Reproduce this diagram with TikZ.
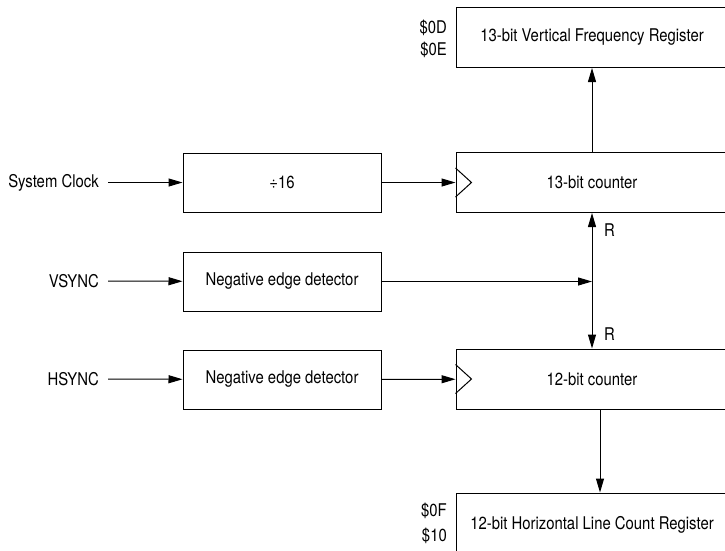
\documentclass[tikz,border=0pt]{standalone}
\usepackage{fontspec}
\setmainfont{TeX Gyre Heros}[FakeStretch=0.85]
\usetikzlibrary{positioning,arrows.meta}

\begin{document}
\begin{tikzpicture}
  [x=1pt,y=-1pt,
   >={Triangle[length=14pt,width=8pt]},
   node font=\fontsize{17.5}{22}\selectfont,
   blockN/.style={draw,line width=1pt,minimum width=198pt,minimum height=59pt,inner sep=0pt},
   regN/.style={draw,line width=1pt,minimum width=272pt,minimum height=60pt,inner sep=0pt},
   sigN/.style={anchor=east,inner xsep=9pt,inner ysep=0pt},
   addrN/.style={anchor=east,inner sep=0pt,align=right},
   wire/.style={line width=1pt,->}]

  \clip (0,0) rectangle (725,550);

  \node[blockN] (div) at (282,182.5) {÷16};
  \node[blockN] (vdet) [below=39pt of div] {Negative edge detector};
  \node[blockN] (hdet) [below=38pt of vdet] {Negative edge detector};

  \node[regN] (vcnt) at (592,182.5) {13-bit counter};
  \node[regN] (hcnt) at (592,379) {12-bit counter};
  \node[regN] (vfr) [above=84pt of vcnt] {13-bit Vertical Frequency Register};
  \node[regN,minimum height=63pt] (hreg) [below=83pt of hcnt] {12-bit Horizontal Line Count Register};

  \node[sigN] (clk) at (108,182.5) {System Clock};
  \node[sigN] (vs) at (108,281) {VSYNC};
  \node[sigN] (hs) at (108,379) {HSYNC};

  \node[addrN] (vaddr) at (447,39) {\$0D\\\$0E};
  \node[addrN] (haddr) at (447,523) {\$0F\\[3pt]\$10};

  % clock inputs
  \foreach \c in {vcnt,hcnt}
    \draw[line width=1pt] ([yshift=14.5pt]\c.west) -- ++(16,14.5) -- ++(-16,14.5);

  \draw[wire] (clk) -- (div);
  \draw[wire] (vs) -- (vdet);
  \draw[wire] (hs) -- (hdet);
  \draw[wire] (div) -- (vcnt);
  \draw[wire] (hdet) -- (hcnt);
  \draw[wire] (vcnt) -- (vfr);
  \draw[wire] ([xshift=8pt]hcnt.south) -- ([xshift=8pt]hreg.north);

  % reset
  \coordinate (rj) at (vcnt.south |- vdet.east);
  \draw[wire] (vdet) -- (rj);
  \draw[line width=1pt,<->] (vcnt) -- (hcnt);
  \node[anchor=west,inner sep=0pt] (r1) at ([xshift=12pt,yshift=-17pt]vcnt.south) {R};
  \node[anchor=west,inner sep=0pt] (r2) at ([xshift=12pt,yshift=14pt]hcnt.north) {R};

\end{tikzpicture}
\end{document}
